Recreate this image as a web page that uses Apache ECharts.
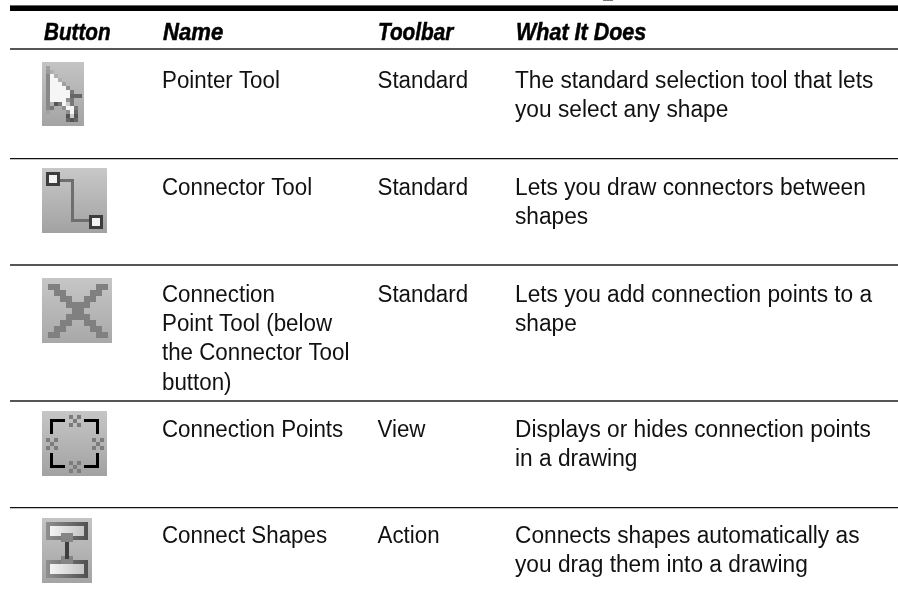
<!DOCTYPE html>
<html><head><meta charset="utf-8">
<style>html,body{margin:0;padding:0;background:#fff}#c{width:898px;height:609px}</style>
<script src="https://cdn.jsdelivr.net/npm/echarts@6/dist/echarts.min.js"></script>
</head><body><div id="c"></div>
<script>
const columnHeaders = ["Button", "Name", "Toolbar", "What It Does"];
const toolNames = ["Pointer Tool", "Connector Tool", "Connection\nPoint Tool (below\nthe Connector Tool\nbutton)", "Connection Points", "Connect Shapes"];
const toolbars = ["Standard", "Standard", "Standard", "View", "Action"];
const descriptions = [
  "The standard selection tool that lets\nyou select any shape",
  "Lets you draw connectors between\nshapes",
  "Lets you add connection points to a\nshape",
  "Displays or hides connection points\nin a drawing",
  "Connects shapes automatically as\nyou drag them into a drawing"
];

const FONT = '"Liberation Sans",sans-serif';
const FS = 23.5, LH = 29.2;
const colX = [44, 162, 377.5, 515];
const headerX = [44, 163, 378, 516];
const headerScale = [0.88, 0.94, 0.884, 0.915];
const headerMid = 33.5;
const rowMid = [81.5, 188.5, 295.5, 430.5, 536.5];
const els = [];
const rect = (x, y, w, h, fill) => els.push({type:'rect', silent:true, shape:{x,y,width:w,height:h}, style:{fill}});
const vgrad = (a, b) => ({type:'linear',x:0,y:0,x2:0,y2:1,colorStops:[{offset:0,color:a},{offset:1,color:b}]});
const hgrad = (a, b) => ({type:'linear',x:0,y:0,x2:1,y2:0,colorStops:[{offset:0,color:a},{offset:1,color:b}]});
const text = (x, y, t, sx, bold) => els.push({type:'text', silent:true, x, y, scaleX:sx, style:{
  text:t, x:0, y:0, fill:bold?'#000':'#111', font:(bold?'italic bold ':'')+FS+'px '+FONT,
  stroke:bold?'#000':null, lineWidth:bold?0.5:0,
  textAlign:'left', verticalAlign:'top', lineHeight:LH}});
const pixels = (x0, y0, s, rows, pal) => rows.forEach((r, j) => [...r].forEach((c, i) => {
  if (pal[c]) rect(x0 + i*s, y0 + j*s, s, s, pal[c]);
}));

// rules
rect(603, 0, 10, 1, '#777');
rect(10, 5, 888, 1, '#666');
rect(10, 6, 888, 5, '#000');
rect(10, 48, 888, 2, '#555');
rect(10, 158, 888, 1.3, '#111');
rect(10, 264, 888, 2, '#555');
rect(10, 400, 888, 2, '#555');
rect(10, 507, 888, 1.3, '#111');

// text
columnHeaders.forEach((h, i) => text(headerX[i], headerMid - LH/2, h, headerScale[i], true));
toolNames.forEach((t, i) => text(colX[1], rowMid[i] - LH/2, t, 0.95));
toolbars.forEach((t, i) => text(colX[2], rowMid[i] - LH/2, t, 0.95));
descriptions.forEach((t, i) => text(colX[3], rowMid[i] - LH/2, t, 0.966));

// icon 1: pointer
rect(42, 62, 42, 64, vgrad('#c4c4c4', '#a4a4a4'));
pixels(46, 66, 4, [
  "a",
  "bc",
  "dWc",
  "dWWc",
  "dWWWa",
  "dWWWWe",
  "dWWWWWf",
  "dWWWWWggg",
  "dWWWWef",
  "dchfWlf",
  "df..eWWf",
  "a....eWg",
  ".....hlh",
  ".....ghg"
], {a:'#a0a0a0',b:'#999',c:'#b0b0b0',d:'#888',e:'#909090',f:'#777',g:'#666',h:'#555',l:'#ccc',W:'#f6f6f6'});

// icon 2: connector
rect(42, 168, 65, 65, vgrad('#c8c8c8', '#a2a2a2'));
rect(60, 179, 14, 3, '#6e6e6e');
rect(71, 179, 3, 43, '#6e6e6e');
rect(71, 219, 18, 3, '#6e6e6e');
rect(46, 172, 14, 14, '#3c3c3c');
rect(49, 175, 8, 8, '#f2f2f2');
rect(89, 215, 14, 14, '#3c3c3c');
rect(92, 218, 8, 8, '#f2f2f2');

// icon 3: connection point tool
rect(42, 278, 70, 65, vgrad('#c6c6c6', '#a8a8a8'));
pixels(48, 284, 6, [
  "XX......XX",
  ".XX....XX.",
  "..XX..XX..",
  "...XXXX...",
  "....XX....",
  "...XXXX...",
  "..XX..XX..",
  ".XX....XX.",
  "XX......XX"
], {X:'#808080'});

// icon 4: connection points
rect(42, 411, 65, 65, vgrad('#c6c6c6', '#a2a2a2'));
[[50,419,15,3],[50,419,3,15],[84,419,15,3],[96,419,3,15],[50,465,15,3],[50,453,3,15],[84,465,15,3],[96,453,3,15]]
  .forEach(b => rect(b[0], b[1], b[2], b[3], '#000'));
[[69,415],[46,438],[92,438],[69,461]].forEach(p =>
  pixels(p[0], p[1], 4, ["X.X",".X.","X.X"], {X:'#7c7c7c'}));

// icon 5: connect shapes
rect(42, 518, 50, 65, vgrad('#c4c4c4', '#a4a4a4'));
[522, 560].forEach(y => {
  rect(46, y, 42, 18, hgrad('#909090', '#505050'));
  rect(50, y+4, 34, 10, hgrad('#f4f4f4', '#c4c4c4'));
});
rect(61, 533, 12, 9, '#858585');
rect(61, 556, 12, 8, '#858585');
rect(65, 542, 4, 17, '#3e3e3e');

const chart = echarts.init(document.getElementById('c'), null, {renderer:'canvas'});
chart.setOption({backgroundColor:'#fff', animation:false, graphic:{elements:els}});
</script></body></html>
